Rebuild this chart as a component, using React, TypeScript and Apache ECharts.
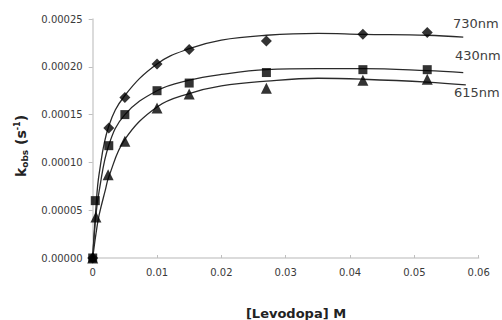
import React, { useEffect, useRef } from "react";
import * as echarts from "echarts";

// Measured points
const x730 = [0, 0.0025, 0.005, 0.01, 0.015, 0.027, 0.042, 0.052];
const y730 = [0, 0.000136, 0.000168, 0.000203, 0.000218, 0.000227, 0.000234, 0.000236];
const x430 = [0, 0.0004, 0.0025, 0.005, 0.01, 0.015, 0.027, 0.042, 0.052];
const y430 = [0, 0.00006, 0.0001175, 0.00015, 0.000175, 0.000183, 0.000194, 0.000197, 0.000197];
const x615 = [0, 0.0005, 0.0024, 0.005, 0.01, 0.015, 0.027, 0.042, 0.052];
const y615 = [0, 0.000043, 0.000087, 0.000122, 0.000157, 0.0001715, 0.0001775, 0.000186, 0.000187];

// Fitted curves
const cx730 = [0, 0.0005, 0.001, 0.0025, 0.005, 0.01, 0.015, 0.02, 0.027, 0.035, 0.042, 0.052, 0.0576];
const cy730 = [0, 0.000052, 0.000088, 0.000138, 0.00017, 0.000203, 0.000219, 0.000228, 0.000233, 0.000235, 0.000234, 0.000233, 0.000231];
const cx430 = [0, 0.0005, 0.001, 0.0025, 0.005, 0.01, 0.015, 0.02, 0.027, 0.035, 0.042, 0.052, 0.0576];
const cy430 = [0, 0.000045, 0.00007, 0.000118, 0.00015, 0.000175, 0.000186, 0.000192, 0.000197, 0.000198, 0.000198, 0.000196, 0.000194];
const cx615 = [0, 0.0005, 0.001, 0.002, 0.0025, 0.005, 0.01, 0.015, 0.02, 0.027, 0.035, 0.042, 0.052, 0.058];
const cy615 = [0, 0.000025, 0.000045, 0.000072, 0.000085, 0.000124, 0.000158, 0.000172, 0.00018, 0.000185, 0.000188, 0.000187, 0.000184, 0.000181];

const seriesNames = ["730nm", "430nm", "615nm"];
const xTitle = "[Levodopa] M";

const zip = (xs: number[], ys: number[]) => xs.map((x, i) => [x, ys[i]]);

export default function App() {
  const ref = useRef<HTMLDivElement>(null);
  useEffect(() => {
    if (!ref.current) return;
    const chart = echarts.init(ref.current, null, { renderer: "svg" });
    const font = "DejaVu Sans";
    const curve = (xs: number[], ys: number[]) => ({
      type: "line",
      data: zip(xs, ys),
      smooth: 0.4,
      showSymbol: false,
      symbol: "none",
      lineStyle: { color: "#2a2a2a", width: 1.3 },
      z: 2,
    });
    const pts = (xs: number[], ys: number[], symbol: string, size: number) => ({
      type: "scatter",
      data: zip(xs, ys),
      symbol,
      symbolSize: size,
      itemStyle: { color: "#000" },
      z: 3,
    });
    chart.setOption({
      animation: false,
      grid: { left: 92.7, right: 23.3, top: 19, bottom: 62 },
      xAxis: {
        type: "value",
        min: 0,
        max: 0.06,
        interval: 0.01,
        axisLine: { lineStyle: { color: "#cfcfcf", width: 1.5 } },
        axisTick: { show: true, inside: true, length: 3, lineStyle: { color: "#bfbfbf" } },
        splitLine: { show: false },
        axisLabel: {
          margin: 9,
          fontFamily: font,
          fontSize: 10,
          color: "#3a3a3a",
          formatter: (v: number) => (v === 0 ? "0" : v.toFixed(2)),
        },
      },
      yAxis: {
        type: "value",
        min: 0,
        max: 0.00025,
        interval: 0.00005,
        axisLine: { show: true, lineStyle: { color: "#cfcfcf", width: 1.5 } },
        axisTick: { show: true, length: 4, lineStyle: { color: "#bfbfbf" } },
        splitLine: { show: false },
        axisLabel: {
          margin: 10,
          fontFamily: font,
          fontSize: 10,
          color: "#3a3a3a",
          formatter: (v: number) => v.toFixed(5),
        },
      },
      series: [
        curve(cx730, cy730),
        curve(cx430, cy430),
        curve(cx615, cy615),
        pts(x615, y615, "triangle", 11),
        pts(x430, y430, "rect", 9),
        pts(x730, y730, "diamond", 11),
      ],
      graphic: [
        { type: "text", left: 453, top: 17, style: { text: seriesNames[0], font: `13px ${font}`, fill: "#404040" } },
        { type: "text", left: 455, top: 49, style: { text: seriesNames[1], font: `13px ${font}`, fill: "#404040" } },
        { type: "text", left: 454, top: 86, style: { text: seriesNames[2], font: `13px ${font}`, fill: "#404040" } },
        {
          type: "text",
          x: 296,
          y: 313,
          style: {
            text: xTitle,
            font: `bold 13px ${font}`,
            fill: "#222",
            align: "center",
            verticalAlign: "middle",
          },
        },
        {
          type: "text",
          x: 21,
          y: 146,
          rotation: Math.PI / 2,
          style: {
            text: "{k|k}{sub|obs}{k| (s}{sup|-1}{k|)}",
            align: "center",
            verticalAlign: "middle",
            fill: "#222",
            rich: {
              k: { fontFamily: font, fontWeight: "bold", fontSize: 14, fill: "#222" },
              sub: { fontFamily: font, fontWeight: "bold", fontSize: 9, fill: "#222", verticalAlign: "bottom", padding: [6, 0, 0, 0] },
              sup: { fontFamily: font, fontWeight: "bold", fontSize: 8, fill: "#222", verticalAlign: "top", padding: [0, 0, 8, 0] },
            },
          },
        },
      ],
    });
    return () => chart.dispose();
  }, []);
  return <div ref={ref} style={{ width: 502, height: 320, position: "absolute", left: 0, top: 0 }} />;
}
